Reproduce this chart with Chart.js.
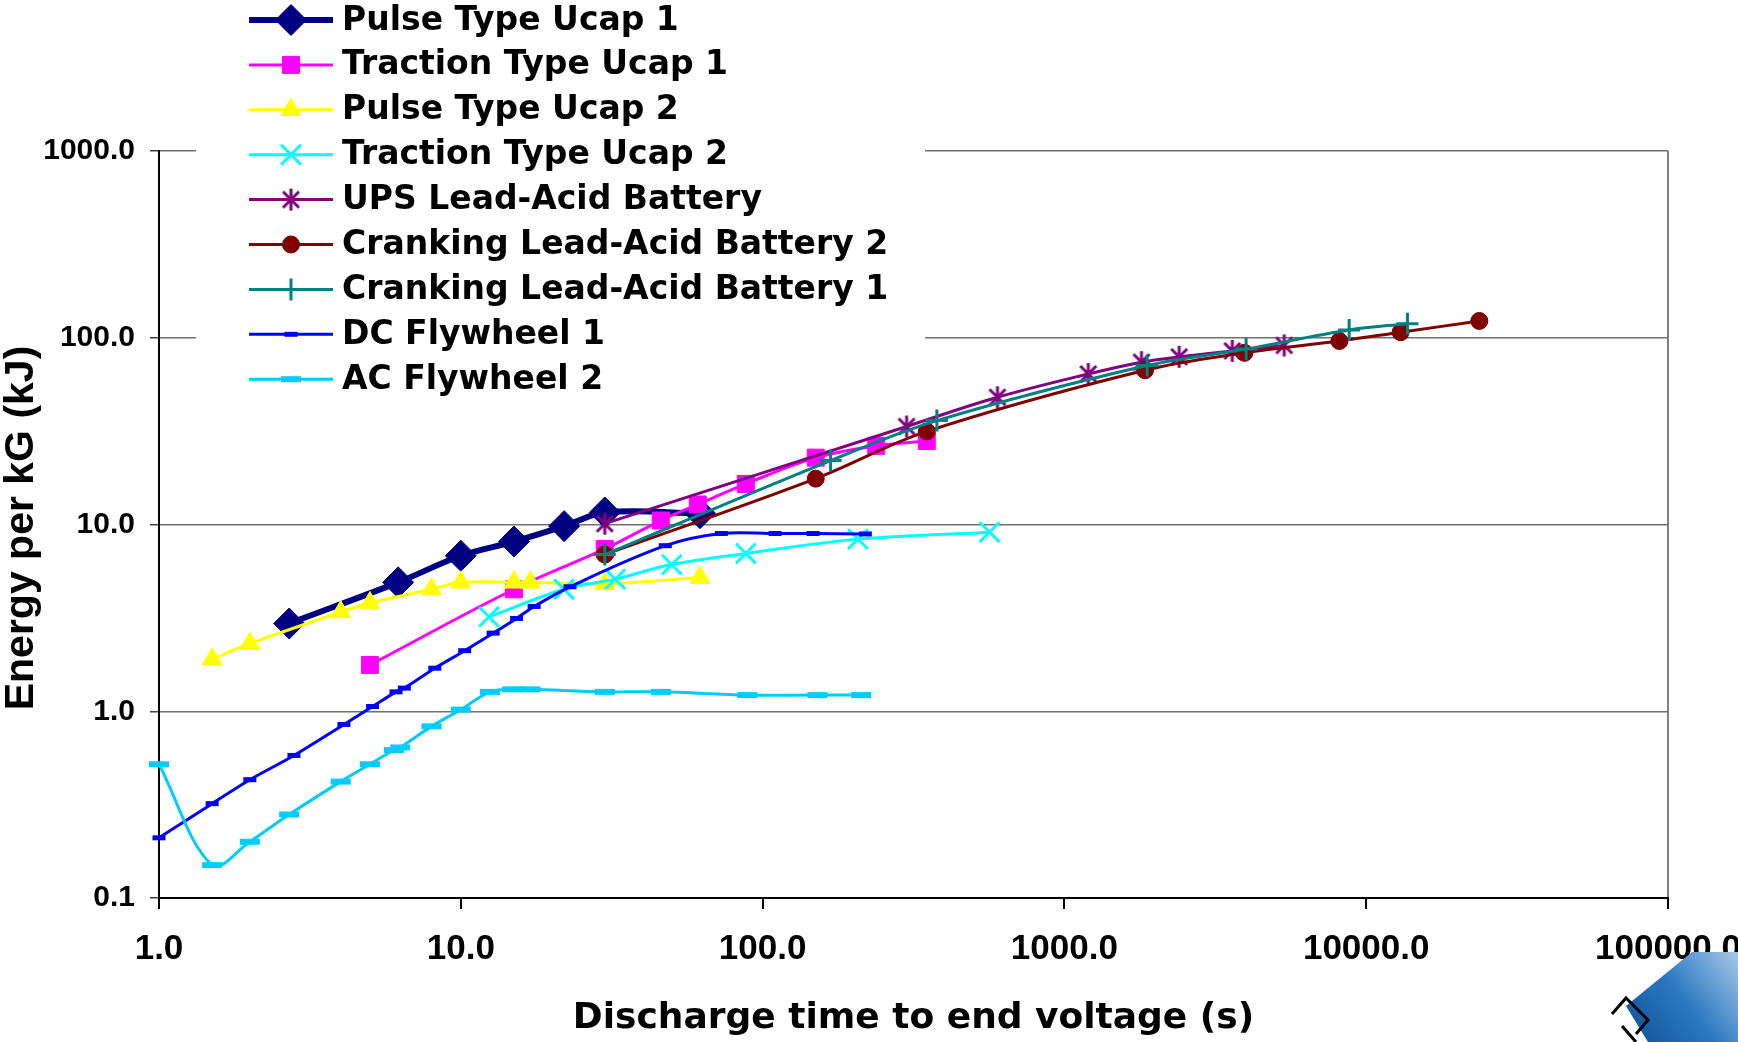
<!DOCTYPE html>
<html>
<head>
<meta charset="utf-8">
<script src="https://cdn.jsdelivr.net/npm/chart.js@4.4.1/dist/chart.umd.min.js"></script>
<style>
  html, body { margin: 0; padding: 0; background: #fff; overflow: hidden; }
  #wrap { position: absolute; left: 0; top: 0; width: 1768px; height: 1042px; }
</style>
</head>
<body>
<div id="wrap"><canvas id="chart"></canvas></div>
<script>
// tick values (log axes, decades only)
const xTicks = [1, 10, 100, 1000, 10000, 100000];
const yTicks = [0.1, 1, 10, 100, 1000];

// series: discharge time (s) / energy per kg (kJ)
const pulse1X = [2.7, 6.2, 10, 15, 22, 30, 62];
const pulse1Y = [2.95, 4.9, 6.8, 8.1, 9.8, 11.6, 11.5];

const traction1X = [5, 15, 30, 46, 61, 88, 150, 238, 350];
const traction1Y = [1.77, 4.5, 7.4, 10.5, 12.8, 16.5, 22.8, 26.4, 28];

const pulse2X = [1.5, 2.0, 4.0, 5.0, 8.0, 10, 15, 17, 30, 62];
const pulse2Y = [1.9, 2.3, 3.4, 3.8, 4.5, 4.9, 4.9, 4.9, 4.8, 5.2];

const traction2X = [12.4, 22, 32.5, 50, 88, 207, 565];
const traction2Y = [3.2, 4.5, 5.1, 6.1, 7.0, 8.35, 9.1];

const upsX = [30, 300, 600, 1200, 1800, 2400, 3600, 5350];
const upsY = [10.1, 33.5, 48, 64, 74, 79, 85, 91];

const crank2X = [30, 150, 350, 1850, 3950, 8150, 13000, 23700];
const crank2Y = [6.9, 17.6, 31.5, 67, 83, 96, 107, 123];

const crank1X = [30, 168, 378, 1880, 4000, 8780, 13700];
const crank1Y = [6.9, 22, 36, 71, 87, 110, 119];

const dcFlyX = [1.0, 1.5, 2.0, 2.8, 4.1, 5.1, 6.1, 6.5, 8.2, 10.3, 12.8, 15.3, 17.5, 23, 47.6, 73, 110, 147, 219];
const dcFlyY = [0.21, 0.32, 0.43, 0.58, 0.85, 1.06, 1.27, 1.33, 1.70, 2.11, 2.62, 3.14, 3.64, 4.64, 7.7, 8.95, 8.95, 8.95, 8.9];

const acFlyX = [1.0, 1.5, 2.0, 2.7, 4.0, 5.0, 6.0, 6.3, 8.0, 10, 12.5, 14.8, 17, 30, 46, 89, 152, 212];
const acFlyY = [0.52, 0.15, 0.20, 0.28, 0.42, 0.52, 0.62, 0.64, 0.83, 1.02, 1.27, 1.31, 1.31, 1.27, 1.27, 1.22, 1.22, 1.22];

// excel style asterisk: vertical bar plus an x
function makeAsterisk(color) {
    const c = document.createElement('canvas');
    c.width = 24; c.height = 24;
    const g = c.getContext('2d');
    g.strokeStyle = color;
    g.lineWidth = 3;
    g.beginPath();
    g.moveTo(12, 1); g.lineTo(12, 23);
    g.moveTo(4, 4); g.lineTo(20, 20);
    g.moveTo(20, 4); g.lineTo(4, 20);
    g.stroke();
    return c;
}

const toPoints = (xs, ys) => xs.map((x, i) => ({x: x, y: ys[i]}));

const series = [
    {label: 'Pulse Type Ucap 1', xs: pulse1X, ys: pulse1Y, color: '#000080', width: 6, style: 'rectRot', radius: 15.5, bw: 1},
    {label: 'Traction Type Ucap 1', xs: traction1X, ys: traction1Y, color: '#FF00FF', width: 3, style: 'rect', radius: 12, bw: 1},
    {label: 'Pulse Type Ucap 2', xs: pulse2X, ys: pulse2Y, color: '#FFFF00', width: 3, style: 'triangle', radius: 11.5, bw: 1},
    {label: 'Traction Type Ucap 2', xs: traction2X, ys: traction2Y, color: '#00FFFF', width: 3, style: 'crossRot', radius: 14, bw: 3},
    {label: 'UPS Lead-Acid Battery', xs: upsX, ys: upsY, color: '#800080', width: 3, style: makeAsterisk('#800080'), radius: 11, bw: 3},
    {label: 'Cranking Lead-Acid Battery 2', xs: crank2X, ys: crank2Y, color: '#800000', width: 3, style: 'circle', radius: 8.5, bw: 1},
    {label: 'Cranking Lead-Acid Battery 1', xs: crank1X, ys: crank1Y, color: '#008080', width: 3, style: 'cross', radius: 11, bw: 3},
    {label: 'DC Flywheel 1', xs: dcFlyX, ys: dcFlyY, color: '#0000FF', width: 3, style: 'line', radius: 6.5, bw: 5},
    {label: 'AC Flywheel 2', xs: acFlyX, ys: acFlyY, color: '#00CCFF', width: 3, style: 'line', radius: 10, bw: 6}
];

const datasets = series.map((s, i) => ({
    label: s.label,
    data: toPoints(s.xs, s.ys),
    borderColor: s.color,
    borderWidth: s.width,
    pointStyle: s.style,
    pointRadius: s.radius,
    pointBackgroundColor: s.color,
    pointBorderColor: s.color,
    pointBorderWidth: s.bw,
    tension: 0.35,
    clip: false,
    order: series.length - i
}));

const font = (size, family) => ({family: family || 'Liberation Sans, Arial, sans-serif', size: size, weight: 'bold'});

/**
 * legend drawn over the top-left of the plot, like the original
 */
const overlayLegend = {
    id: 'overlayLegend',
    beforeDatasetsDraw(chart) {
        const ctx = chart.ctx;
        ctx.save();
        ctx.fillStyle = '#ffffff';
        ctx.fillRect(196, 0, 729, 400);
        ctx.restore();
    },
    afterDraw(chart) {
        const ctx = chart.ctx;
        const rowTop = 20, rowGap = 44.9, lineL = 249, lineR = 333, textX = 342;
        ctx.save();
        chart.data.datasets.forEach((ds, i) => {
            const y = rowTop + i * rowGap;
            ctx.strokeStyle = ds.borderColor;
            ctx.lineWidth = ds.borderWidth;
            ctx.beginPath();
            ctx.moveTo(lineL, y);
            ctx.lineTo(lineR, y);
            ctx.stroke();
            ctx.fillStyle = ds.pointBackgroundColor;
            ctx.strokeStyle = ds.pointBorderColor;
            ctx.lineWidth = ds.pointBorderWidth;
            Chart.helpers.drawPoint(ctx, {pointStyle: ds.pointStyle, radius: ds.pointRadius, borderWidth: ds.pointBorderWidth, rotation: 0}, (lineL + lineR) / 2, y);
            ctx.fillStyle = '#000';
            ctx.font = 'bold 33px "DejaVu Sans"';
            ctx.textBaseline = 'middle';
            ctx.textAlign = 'left';
            ctx.fillText(ds.label, textX, y + 1);
        });
        ctx.restore();
    }
};

// y title, rotated, centred on the plot height
const yTitle = {
    id: 'yTitle',
    afterDraw(chart) {
        const ctx = chart.ctx;
        ctx.save();
        ctx.translate(22, 528);
        ctx.rotate(-Math.PI / 2);
        ctx.fillStyle = '#000';
        ctx.font = 'bold 41px "Liberation Sans", Arial, sans-serif';
        ctx.textAlign = 'center';
        ctx.textBaseline = 'middle';
        ctx.fillText('Energy per kG (kJ)', 0, 0);
        ctx.restore();
    }
};

// corner of the publisher logo, cut by the picture edge
const cornerLogo = {
    id: 'cornerLogo',
    afterDraw(chart) {
        const ctx = chart.ctx;
        ctx.save();
        const grad = ctx.createLinearGradient(1620, 1040, 1738, 950);
        grad.addColorStop(0, '#0d4f94');
        grad.addColorStop(0.5, '#2a78c0');
        grad.addColorStop(1, '#a9c9ea');
        ctx.fillStyle = grad;
        ctx.beginPath();
        ctx.moveTo(1692, 952);
        ctx.lineTo(1740, 952);
        ctx.lineTo(1740, 1042);
        ctx.lineTo(1648, 1042);
        ctx.lineTo(1626, 1006);
        ctx.closePath();
        ctx.fill();
        ctx.strokeStyle = '#000';
        ctx.lineWidth = 3;
        ctx.beginPath();
        ctx.moveTo(1612, 1014); ctx.lineTo(1626, 998); ctx.lineTo(1648, 1020); ctx.lineTo(1636, 1034);
        ctx.moveTo(1622, 1026); ctx.lineTo(1636, 1042);
        ctx.stroke();
        ctx.restore();
    }
};

const chart = new Chart(document.getElementById('chart'), {
    type: 'line',
    data: {datasets: datasets},
    options: {
        animation: false,
        responsive: true,
        maintainAspectRatio: false,
        layout: {padding: {top: 151, right: 100, left: 0, bottom: 0}},
        plugins: {
            legend: {display: false},
            tooltip: {enabled: false}
        },
        scales: {
            x: {
                type: 'logarithmic',
                min: 1,
                max: 100000,
                afterBuildTicks: s => { s.ticks = xTicks.map(v => ({value: v})); },
                afterFit: s => { s.height = 144; },
                ticks: {
                    callback: v => Number(v).toFixed(1),
                    font: font(35),
                    color: '#000',
                    padding: 19,
                    maxRotation: 0,
                    autoSkip: false
                },
                grid: {
                    color: c => (c.tick && c.tick.value === 100000) ? '#808080' : 'rgba(0,0,0,0)',
                    lineWidth: 2,
                    tickColor: '#000',
                    tickLength: 11
                },
                border: {color: '#000', width: 2},
                title: {
                    display: true,
                    text: 'Discharge time to end voltage (s)',
                    font: font(36, 'DejaVu Sans'),
                    color: '#000',
                    padding: {top: 0, bottom: 2}
                }
            },
            y: {
                type: 'logarithmic',
                min: 0.1,
                max: 1000,
                afterBuildTicks: s => { s.ticks = yTicks.map(v => ({value: v})); },
                afterFit: s => { s.width = 159; },
                ticks: {
                    callback: v => Number(v).toFixed(1),
                    font: font(30),
                    color: '#000',
                    padding: 15,
                    autoSkip: false
                },
                grid: {
                    color: '#707070',
                    lineWidth: 1.5,
                    tickColor: '#404040',
                    tickLength: 9
                },
                border: {color: '#000', width: 2}
            }
        }
    },
    plugins: [overlayLegend, yTitle, cornerLogo]
});
</script>
</body>
</html>
